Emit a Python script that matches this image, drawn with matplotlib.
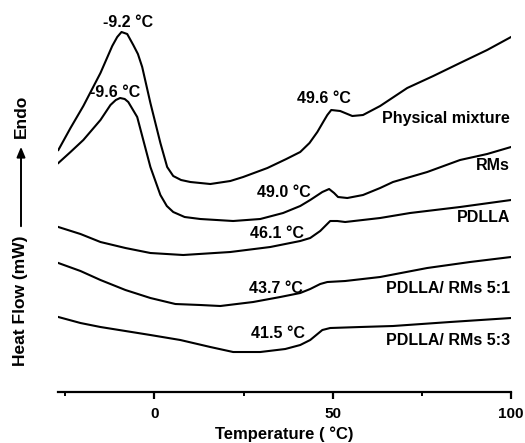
import numpy as np
import matplotlib
matplotlib.use("Agg")
import matplotlib.pyplot as plt

plt.rcParams['font.family'] = ['Liberation Sans', 'DejaVu Sans']
plt.rcParams['font.weight'] = 'bold'

# DSC traces (temperature in degC, heat flow in arbitrary offset units)
t_mix = [-26.9, -23.5, -19.9, -15.1, -11.8, -10.4, -9.2, -7.6, -5.9, -4.6, -3.4, -1.1, 1.7, 3.6,
         5.3, 7.5, 10.1, 15.7, 21.3, 24.9, 31.7, 37.0, 40.9, 43.5, 45.7, 47.5, 48.5, 49.6, 52.1,
         55.5, 58.5, 63.3, 70.9, 78.2, 85.7, 93.3, 100.0]
hf_mix = [24.2, 26.4, 28.6, 31.9, 34.6, 35.5, 36.0, 35.8, 34.7, 33.8, 32.5, 28.9, 24.9, 22.5,
          21.6, 21.2, 21.0, 20.8, 21.1, 21.5, 22.4, 23.3, 24.0, 24.9, 26.0, 27.1, 27.7, 28.2, 28.1,
          27.6, 27.7, 28.6, 30.4, 31.6, 32.9, 34.2, 35.5]

t_rms = [-26.9, -23.5, -19.9, -15.1, -12.3, -10.8, -9.6, -8.3, -7.3, -4.8, -3.1, -1.1, 1.7, 3.5,
         5.3, 8.5, 12.9, 22.1, 29.7, 36.1, 40.9, 43.7, 47.1, 49.0, 50.4, 51.5, 54.1, 58.5, 63.3,
         66.9, 76.5, 85.7, 93.3, 100.0]
hf_rms = [22.9, 24.0, 25.2, 27.2, 28.7, 29.2, 29.4, 29.3, 29.0, 27.5, 25.2, 22.5, 19.7, 18.6,
          18.0, 17.5, 17.3, 17.1, 17.3, 17.9, 18.6, 19.2, 20.0, 20.3, 19.9, 19.5, 19.4, 19.7, 20.4,
          21.0, 22.0, 23.2, 23.8, 24.5]

t_pdlla = [-26.9, -20.7, -15.1, -8.1, -1.1, 8.1, 21.3, 32.5, 40.9, 43.7, 46.5, 49.3, 51.3, 53.5,
           63.3, 71.7, 85.7, 100.0]
hf_pdlla = [16.5, 15.8, 15.0, 14.4, 13.9, 13.7, 14.0, 14.5, 15.1, 15.4, 16.1, 17.1, 17.1, 17.0,
            17.4, 17.9, 18.5, 19.2]

t_51 = [-26.9, -20.7, -15.1, -8.1, -1.1, 5.9, 12.9, 18.5, 27.7, 35.3, 40.9, 43.7, 46.5, 48.5,
        53.5, 63.3, 76.5, 88.5, 100.0]
hf_51 = [12.9, 12.1, 11.2, 10.2, 9.4, 8.8, 8.7, 8.6, 9.0, 9.5, 9.9, 10.3, 10.8, 11.0,
         11.1, 11.5, 12.4, 13.0, 13.5]

t_53 = [-26.9, -20.7, -15.1, -8.1, -1.1, 7.3, 15.7, 22.1, 29.7, 36.7, 40.9, 43.7, 47.1, 49.3,
        57.7, 66.9, 82.9, 100.0]
hf_53 = [7.5, 6.9, 6.5, 6.1, 5.7, 5.2, 4.5, 4.0, 4.0, 4.3, 4.7, 5.2, 6.2, 6.4,
         6.5, 6.6, 7.0, 7.4]

names = ['Physical mixture', 'RMs', 'PDLLA', 'PDLLA/ RMs 5:1', 'PDLLA/ RMs 5:3']
name_y = [27.4, 22.7, 17.5, 10.4, 5.2]

peak_text = ['-9.2 °C', '-9.6 °C', '49.6 °C', '49.0 °C', '46.1 °C', '43.7 °C', '41.5 °C']
peak_x = [-7.3, -10.9, 47.6, 36.4, 34.5, 34.2, 34.7]
peak_y = [37.0, 30.0, 29.4, 20.0, 15.9, 10.4, 5.9]

fig = plt.figure(figsize=(5.25, 4.43), dpi=100)
ax = fig.add_axes([0.1105, 0.1151, 0.8629, 0.8849])

for t, hf in [(t_mix, hf_mix), (t_rms, hf_rms), (t_pdlla, hf_pdlla), (t_51, hf_51), (t_53, hf_53)]:
    ax.plot(t, hf, color='black', lw=1.5, solid_joinstyle='round')

for name, y in zip(names, name_y):
    ax.text(99.7, y, name, ha='right', va='center', fontsize=11.5, fontweight='bold')

for s, x, y in zip(peak_text, peak_x, peak_y):
    ax.text(x, y, s, ha='center', va='center', fontsize=11.5, fontweight='bold')

ax.set_xlim(-27, 100)
ax.set_ylim(0, 39.2)
for side in ['left', 'right', 'top']:
    ax.spines[side].set_visible(False)
ax.spines['bottom'].set_linewidth(1.6)
ax.set_yticks([])
ax.set_xticks([0, 50, 100])
ax.set_xticks([-25, 25, 75], minor=True)
ax.tick_params(axis='x', which='major', direction='out', length=5, width=1.6, pad=6, labelsize=11)
ax.tick_params(axis='x', which='minor', direction='out', length=3, width=1.4)
for lab in ax.get_xticklabels():
    lab.set_fontweight('bold')
ax.set_xlabel('Temperature ( °C)', fontsize=12, fontweight='bold', labelpad=4)

# y label with arrow pointing to "Endo"
fig.text(21 / 525, 1 - 301 / 443, 'Heat Flow (mW)', rotation=90, ha='center', va='center',
         fontsize=12.5, fontweight='bold')
fig.text(21 / 525, 1 - 116 / 443, 'Endo', rotation=90, ha='center', va='center',
         fontsize=12.5, fontweight='bold')
ax.annotate('', xy=(21 / 525, 1 - 144 / 443), xytext=(21 / 525, 1 - 229 / 443),
            xycoords='figure fraction', textcoords='figure fraction',
            arrowprops=dict(arrowstyle='-|>,head_length=0.6,head_width=0.25', color='black', lw=1.4))

fig.savefig('out.png', dpi=100)
